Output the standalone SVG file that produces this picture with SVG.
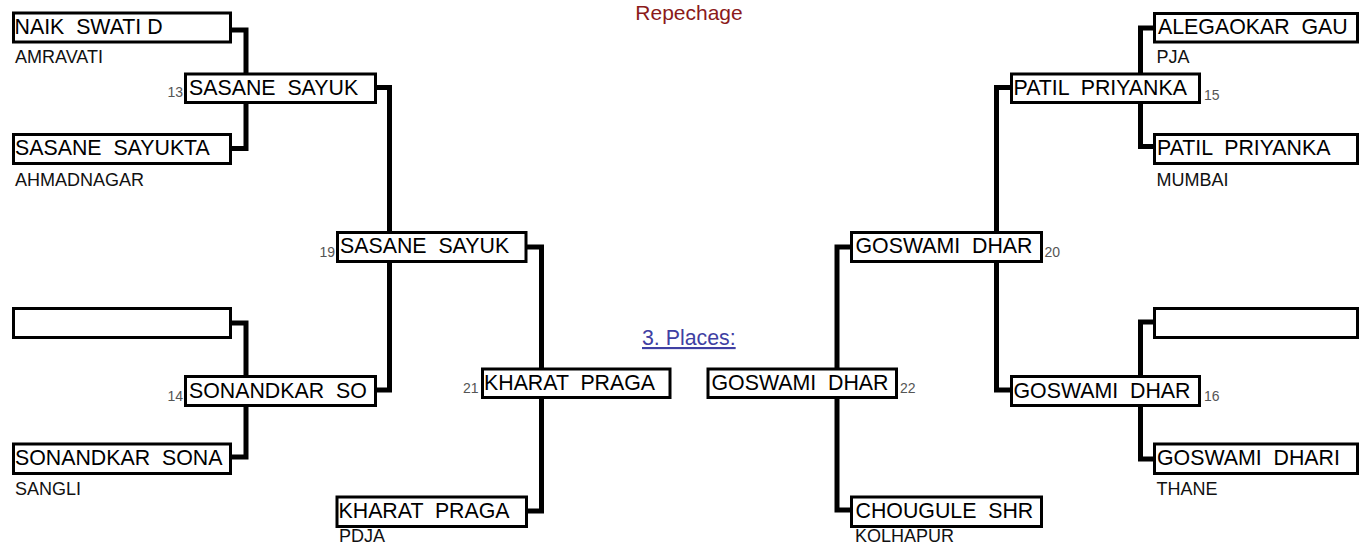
<svg xmlns="http://www.w3.org/2000/svg" width="1359" height="546" viewBox="0 0 1359 546" xml:space="preserve">
<style>
  .box { fill: #ffffff; stroke: #000000; stroke-width: 3; }
  .name { font-family: "Liberation Sans", Arial, sans-serif; font-size: 21.33px; fill: #000000; white-space: pre; }
  .club { font-family: "Liberation Sans", Arial, sans-serif; font-size: 18px; fill: #111111; }
  .num { font-family: "Liberation Sans", Arial, sans-serif; font-size: 14px; fill: #555555; }
  .conn { fill: none; stroke: #000000; stroke-width: 5; stroke-linejoin: miter; stroke-linecap: butt; }
  .title { font-family: "Liberation Sans", Arial, sans-serif; font-size: 21px; fill: #8b1a1a; }
  .link { font-family: "Liberation Sans", Arial, sans-serif; font-size: 21.33px; fill: #3f3fa3; text-decoration: underline; }
</style>
<rect width="1359" height="546" fill="#ffffff"/>
<text class="title" x="689" y="19.5" text-anchor="middle">Repechage</text>
<text class="link" x="642" y="345">3. Places:</text>

<g id="connectors">
  <path class="conn" d="M228,30 H246 V148.5 H228"/>
  <path class="conn" d="M228,323 H246 V457 H228"/>
  <path class="conn" d="M374,87.5 H389.5 V390 H374"/>
  <path class="conn" d="M525,247 H541.5 V511 H525"/>
  <path class="conn" d="M1156,28 H1140.5 V146.5 H1156"/>
  <path class="conn" d="M1156,322 H1140.5 V459 H1156"/>
  <path class="conn" d="M1013,87.5 H996.5 V390 H1013"/>
  <path class="conn" d="M853,247 H837 V510 H853"/>
</g>

<g id="n-naik">
  <rect class="box" x="13.5" y="13" width="217" height="29"/>
  <text class="name" x="14.5" y="33.5">NAIK  SWATI D</text>
  <text class="club" x="15" y="63">AMRAVATI</text>
</g>
<g id="n-sasane-sayukta">
  <rect class="box" x="13.5" y="134.5" width="217" height="29"/>
  <text class="name" x="15" y="155">SASANE  SAYUKTA</text>
  <text class="club" x="15" y="186">AHMADNAGAR</text>
</g>
<g id="n-empty-left">
  <rect class="box" x="13.5" y="308.5" width="217" height="29"/>
</g>
<g id="n-sonandkar-sona">
  <rect class="box" x="13.5" y="444" width="217" height="29.5"/>
  <text class="name" x="15" y="465">SONANDKAR  SONA</text>
  <text class="club" x="15" y="495">SANGLI</text>
</g>
<g id="n-13">
  <rect class="box" x="185.5" y="74" width="190" height="28.5"/>
  <text class="name" x="189" y="95">SASANE  SAYUK</text>
  <text class="num" x="183" y="97" text-anchor="end">13</text>
</g>
<g id="n-14">
  <rect class="box" x="185.5" y="376.5" width="190" height="29"/>
  <text class="name" x="189" y="397.5">SONANDKAR  SO</text>
  <text class="num" x="183" y="400.5" text-anchor="end">14</text>
</g>
<g id="n-19">
  <rect class="box" x="337.5" y="232.5" width="188.5" height="29"/>
  <text class="name" x="340" y="253">SASANE  SAYUK</text>
  <text class="num" x="335" y="257" text-anchor="end">19</text>
</g>
<g id="n-21">
  <rect class="box" x="482.5" y="369" width="187.5" height="28.5"/>
  <text class="name" x="484" y="390">KHARAT  PRAGA</text>
  <text class="num" x="478.5" y="393" text-anchor="end">21</text>
</g>
<g id="n-kharat-praga">
  <rect class="box" x="337" y="497" width="189.5" height="29.5"/>
  <text class="name" x="338.5" y="518">KHARAT  PRAGA</text>
  <text class="club" x="339" y="541.5">PDJA</text>
</g>

<g id="n-alegaokar">
  <rect class="box" x="1154.5" y="13.5" width="203" height="28.5"/>
  <text class="name" x="1158" y="34">ALEGAOKAR  GAU</text>
  <text class="club" x="1156.5" y="63">PJA</text>
</g>
<g id="n-patil-priyanka">
  <rect class="box" x="1154.5" y="134.5" width="203" height="29"/>
  <text class="name" x="1157" y="155">PATIL  PRIYANKA</text>
  <text class="club" x="1156.5" y="186">MUMBAI</text>
</g>
<g id="n-empty-right">
  <rect class="box" x="1154.5" y="308.5" width="203" height="29"/>
</g>
<g id="n-goswami-dhari">
  <rect class="box" x="1154.5" y="444" width="203" height="29.5"/>
  <text class="name" x="1157" y="465">GOSWAMI  DHARI</text>
  <text class="club" x="1156.5" y="495">THANE</text>
</g>
<g id="n-15">
  <rect class="box" x="1011.5" y="74" width="188" height="28.5"/>
  <text class="name" x="1013.5" y="95">PATIL  PRIYANKA</text>
  <text class="num" x="1204" y="100">15</text>
</g>
<g id="n-16">
  <rect class="box" x="1011.5" y="376.5" width="188" height="29"/>
  <text class="name" x="1013.5" y="397.5">GOSWAMI  DHAR</text>
  <text class="num" x="1204" y="401">16</text>
</g>
<g id="n-20">
  <rect class="box" x="851.5" y="232.5" width="190" height="29"/>
  <text class="name" x="855.5" y="253">GOSWAMI  DHAR</text>
  <text class="num" x="1044.5" y="257">20</text>
</g>
<g id="n-22">
  <rect class="box" x="708" y="369" width="188.5" height="28.5"/>
  <text class="name" x="711.5" y="390">GOSWAMI  DHAR</text>
  <text class="num" x="900" y="393">22</text>
</g>
<g id="n-chougule">
  <rect class="box" x="851.5" y="497" width="190" height="29.5"/>
  <text class="name" x="855.5" y="518">CHOUGULE  SHR</text>
  <text class="club" x="855" y="541.5">KOLHAPUR</text>
</g>
</svg>
